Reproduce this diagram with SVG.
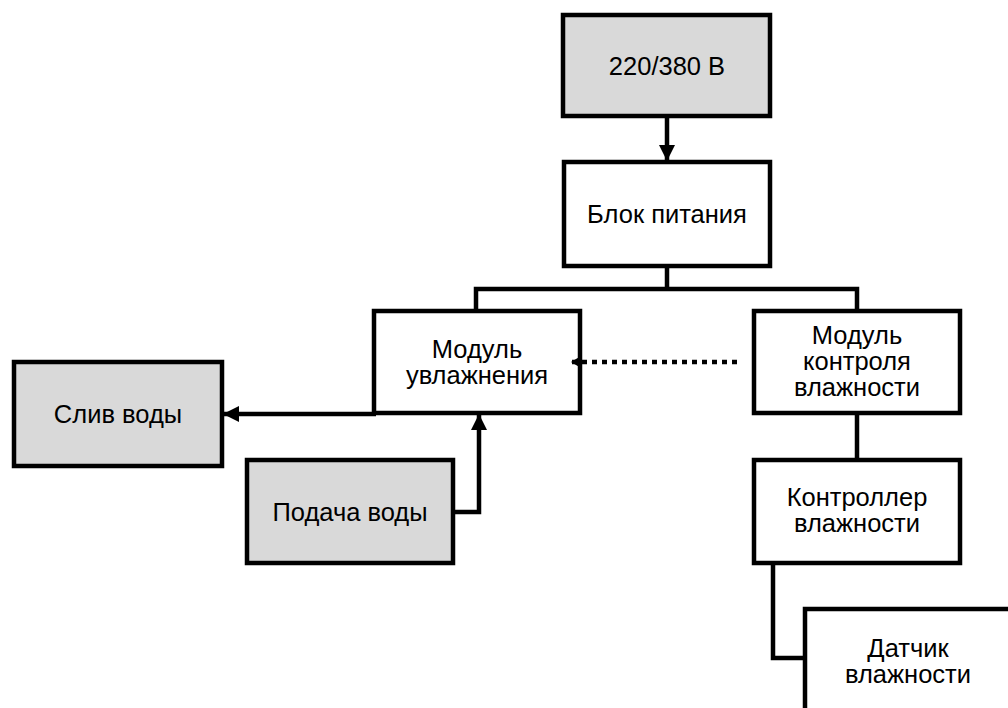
<svg xmlns="http://www.w3.org/2000/svg" width="1008" height="708" viewBox="0 0 1008 708">
<style>
.box{stroke:#000;stroke-width:4.5;stroke-linejoin:miter}
.g{fill:#d9d9d9}
.w{fill:#fff}
.t{font-family:"Liberation Sans",Arial,sans-serif;font-size:25.5px;fill:#000;text-anchor:middle}
.c{fill:none;stroke:#000;stroke-width:4.5}
.d{fill:none;stroke:#000;stroke-width:4.5;stroke-dasharray:5 5}
</style>
<defs>
<marker id="ah" viewBox="0 0 16 16" refX="15" refY="8" markerWidth="16" markerHeight="16" markerUnits="userSpaceOnUse" orient="auto">
<path d="M0,0 L16,8 L0,16 Z" fill="#000"/>
</marker>
<marker id="ahs" viewBox="0 0 10 12" refX="10" refY="6" markerWidth="10" markerHeight="12" markerUnits="userSpaceOnUse" orient="auto">
<path d="M0,0 L10,6 L0,12 Z" fill="#000"/>
</marker>
</defs>
<rect width="1008" height="708" fill="#fff"/>
<g id="n1"><rect class="box g" x="563" y="15" width="207" height="101"/><text class="t" x="667" y="75">220/380 В</text></g>
<g id="n2"><rect class="box w" x="564" y="162" width="206" height="104"/><text class="t" x="667" y="223">Блок питания</text></g>
<g id="n3"><rect class="box w" x="374" y="311" width="206" height="102"/><text class="t" x="477" y="358">Модуль</text><text class="t" x="477" y="384">увлажнения</text></g>
<g id="n4"><rect class="box w" x="754" y="311" width="206" height="102"/><text class="t" x="857" y="344">Модуль</text><text class="t" x="857" y="370">контроля</text><text class="t" x="857" y="396">влажности</text></g>
<g id="n5"><rect class="box g" x="14" y="362" width="208" height="104"/><text class="t" x="118" y="423">Слив воды</text></g>
<g id="n6"><rect class="box g" x="247" y="460" width="206" height="103"/><text class="t" x="350" y="521">Подача воды</text></g>
<g id="n7"><rect class="box w" x="754" y="460" width="206" height="103"/><text class="t" x="857" y="506">Контроллер</text><text class="t" x="857" y="532">влажности</text></g>
<g id="n8"><rect class="box w" x="805" y="609" width="210" height="110"/><text class="t" x="908" y="657">Датчик</text><text class="t" x="908" y="683">влажности</text></g>
<g id="connectors">
<line class="c" x1="667" y1="117" x2="667" y2="160" marker-end="url(#ah)"/>
<polyline class="c" points="667,266 667,289"/>
<polyline class="c" points="476,311 476,289 857,289 857,311"/>
<line class="c" x1="376" y1="414" x2="224" y2="414" marker-end="url(#ah)"/>
<polyline class="c" points="453,512 479,512 479,415" marker-end="url(#ah)"/>
<line class="d" x1="737" y1="362" x2="571" y2="362" marker-end="url(#ahs)"/>
<line class="c" x1="857" y1="413" x2="857" y2="460"/>
<polyline class="c" points="773,563 773,658 805,658"/>
</g>
</svg>
